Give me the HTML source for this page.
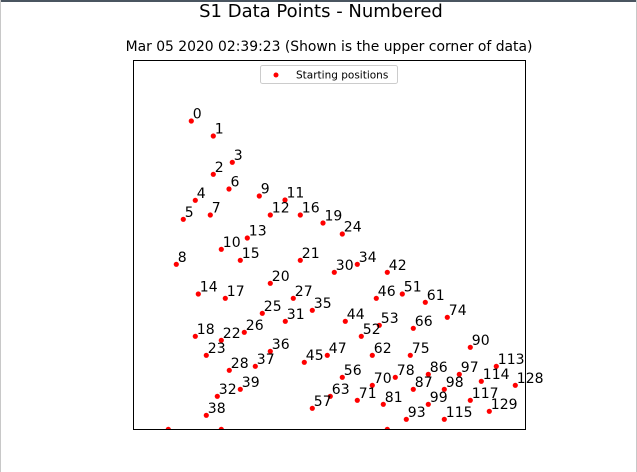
<!DOCTYPE html>
<html><head><meta charset="utf-8"><style>
html,body{margin:0;padding:0;background:#fff;}
body{width:637px;height:472px;overflow:hidden;position:relative;font-family:"DejaVu Sans","Liberation Sans",sans-serif;}
svg{position:absolute;left:0;top:0;}
</style></head><body>
<svg id="chart" width="637" height="472">
<rect x="0" y="0" width="637" height="2" fill="#4a5560"/>
<rect x="0" y="0" width="1" height="472" fill="#c8c8c8"/>
<rect x="636" y="0" width="1" height="472" fill="#c8c8c8"/>
<text x="321" y="17" font-size="18" text-anchor="middle" fill="#000">S1 Data Points - Numbered</text>
<text x="329" y="51" font-size="13.9" text-anchor="middle" fill="#000">Mar 05 2020 02:39:23 (Shown is the upper corner of data)</text>
<defs><clipPath id="plotclip"><rect x="133" y="60" width="392" height="369"/></clipPath></defs>
<g id="marks" clip-path="url(#plotclip)"></g>
<g id="labels"></g>
<rect x="133.5" y="60.5" width="392" height="369" fill="none" stroke="#000" stroke-width="1"/>
<g>
<rect x="260.5" y="65.5" width="137" height="18" rx="2" fill="#fff" stroke="#ccc"/>
<circle cx="276" cy="75" r="2.5" fill="red"/>
<text x="296" y="78.5" font-size="10.5" fill="#000">Starting positions</text>
</g>
</svg>
<script>
const pointIds = [0,1,3,2,6,9,11,4,5,7,12,16,19,24,13,10,15,8,21,30,34,42,20,14,17,27,46,51,61,35,25,31,44,53,66,74,18,22,26,52,36,23,47,62,75,90,45,37,28,113,56,70,78,86,97,114,128,39,87,98,32,63,71,81,99,117,57,129,38,93,115,-1,-2,-3];
const xValues = [58.3,80.3,99.3,80.3,96,126.3,152,62.3,50.3,77.3,137.3,167.3,190,209.3,114.3,88.3,107.3,43.3,167.3,201.3,224.3,254.3,137.3,65.3,92.3,160.3,243.3,269.3,292.3,179.3,129.3,152.3,212.3,246.3,280.3,314.3,62.3,88.3,111.3,228.3,137.3,73.3,194.3,239.3,277.3,337.3,171.3,122.3,96.3,363.3,209.3,239.3,262.3,295.3,326.3,348.3,382.3,107.3,280.3,311.3,84.3,197.3,224.3,250.3,295.3,337.3,179.3,356.3,73.3,273.3,311.3,35.3,88.3,254.3];
const yValues = [308,293,266.7,254.7,240,233,229,228.7,209.7,214,214,214,206,195,191,179.7,168.7,164.7,168.7,156.7,164.7,156.7,145.7,135,130.7,130.7,130.7,135,126.7,118.7,115.7,107.7,107.7,103.7,100.7,111.7,92.7,88.7,96.7,92.7,77.7,73.7,73.7,73.7,73.7,81.7,66.7,62.7,58.7,62.7,51.7,43.7,51.7,54.7,54.7,47.7,43.7,39.7,39.7,39.7,32.7,32.7,28.7,24.7,24.7,28.7,20.7,17.7,13.7,9.7,9.7,-0.3,-0.3,-0.3];
const X0 = 133, Y0 = 429;
function xScale(v){ return X0 + v; }
function yScale(v){ return Y0 - v; }
const NS = "http://www.w3.org/2000/svg";
const g = document.getElementById("marks");
const lg = document.getElementById("labels");
for (let i = 0; i < pointIds.length; i++) {
  const cx = xScale(xValues[i]), cy = yScale(yValues[i]);
  const c = document.createElementNS(NS, "circle");
  c.setAttribute("cx", cx); c.setAttribute("cy", cy); c.setAttribute("r", 2.6); c.setAttribute("fill", "red");
  
  
  g.appendChild(c);
  if (pointIds[i] >= 0) {
    const t = document.createElementNS(NS, "text");
    t.setAttribute("x", cx + 1.5); t.setAttribute("y", cy - 2.5);
    t.setAttribute("font-size", "14"); t.setAttribute("fill", "#000");
    t.textContent = String(pointIds[i]);
    
    
    lg.appendChild(t);
  }
}
</script>
</body></html>
